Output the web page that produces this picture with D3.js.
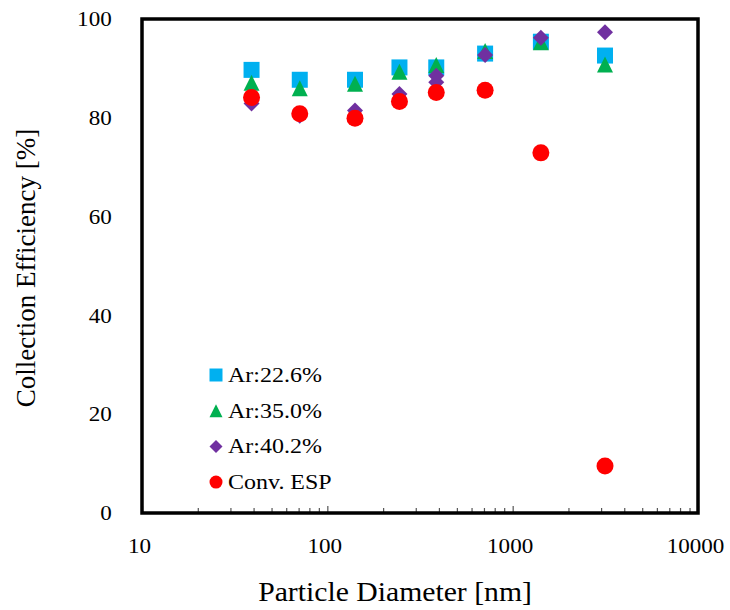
<!DOCTYPE html>
<html>
<head>
<meta charset="utf-8">
<script src="https://cdn.jsdelivr.net/npm/d3@7"></script>
<style>
	body { margin: 0; background: #fff; }
	text { font-family: "Liberation Serif", "Times New Roman", serif; fill: #000; }
</style>
</head>
<body>
<div id="chart"></div>
<script>

// particle diameters [nm]
const diam = [39, 71, 141, 245, 387, 710, 1420, 3150];
const diamAr402 = [39, 71, 141, 245, 387, 387, 710, 1420, 3150];

// collection efficiency [%]
const ar226 = [89.7, 87.7, 87.7, 90.2, 90.2, 93.0, 95.4, 92.6];
const ar350 = [87.1, 86.0, 86.9, 89.3, 90.7, 93.5, 95.3, 90.8];
const ar402 = [82.9, 80.4, 81.5, 84.8, 88.5, 87.2, 92.7, 96.2, 97.3];
const convEsp = [84.1, 80.8, 79.9, 83.3, 85.1, 85.6, 72.9, 9.5];

const seriesNames = ["Ar:22.6%", "Ar:35.0%", "Ar:40.2%", "Conv. ESP"];
const xTickLabels = [10, 100, 1000, 10000];
const yTickLabels = [0, 20, 40, 60, 80, 100];

const W = 730, H = 610;
const m = {t: 19, r: 32, b: 97, l: 142};
const FONT = '"Liberation Serif", "Times New Roman", serif';

// excel-ish marker shapes, centred on their box
const symTriangle = {
	draw(ctx, size) {
		const h = Math.sqrt(size) / 2;
		ctx.moveTo(0, -h); ctx.lineTo(h, h); ctx.lineTo(-h, h); ctx.closePath();
	}
};
const symDiamond = {
	draw(ctx, size) {
		const h = Math.sqrt(size) / 2;
		ctx.moveTo(0, -h); ctx.lineTo(h, 0); ctx.lineTo(0, h); ctx.lineTo(-h, 0); ctx.closePath();
	}
};

const series = [
	{name: seriesNames[0], xs: diam, ys: ar226, color: "#00B0F0", type: d3.symbolSquare, size: 16 * 16, lsize: 13 * 13},
	{name: seriesNames[1], xs: diam, ys: ar350, color: "#00B050", type: symTriangle, size: 16 * 16, lsize: 13 * 13},
	{name: seriesNames[2], xs: diamAr402, ys: ar402, color: "#7030A0", type: symDiamond, size: 16 * 16, lsize: 13 * 13},
	{name: seriesNames[3], xs: diam, ys: convEsp, color: "#FF0000", type: d3.symbolCircle, size: Math.PI * 8.5 * 8.5, lsize: Math.PI * 6.5 * 6.5}
];

const x = d3.scaleLog()
	.domain([10, 10000])
	.range([m.l, W - m.r]);

const y = d3.scaleLinear()
	.domain([0, 100])
	.range([H - m.b, m.t]);

const svg = d3.select("#chart").append("svg")
	.attr("width", W)
	.attr("height", H);

// minor ticks, pointing into the plot
const minorTicks = x.ticks().filter(v => xTickLabels.indexOf(v) < 0);
svg.append("g")
	.attr("transform", `translate(0,${H - m.b})`)
	.call(d3.axisBottom(x).tickValues(minorTicks).tickSize(-5).tickFormat(""))
	.call(g => g.select(".domain").remove())
	.call(g => g.selectAll("line").attr("stroke", "#555").attr("stroke-width", 1.2));

// major ticks + labels (text is a touch wider in the original, hence the scale)
svg.append("g")
	.attr("transform", `translate(0,${H - m.b})`)
	.call(d3.axisBottom(x).tickValues(xTickLabels).tickSize(-7).tickPadding(25).tickFormat(d3.format("d")))
	.call(g => g.attr("font-family", FONT))
	.call(g => g.select(".domain").remove())
	.call(g => g.selectAll("line").attr("stroke", "#555").attr("stroke-width", 1.2))
	.call(g => g.selectAll("text").attr("font-size", 21).attr("transform", "translate(-3,0) scale(1.1,1)"));

svg.append("g")
	.attr("transform", `translate(${m.l},0)`)
	.call(d3.axisLeft(y).tickValues(yTickLabels).tickSize(0).tickPadding(27.5))
	.call(g => g.attr("font-family", FONT))
	.call(g => g.select(".domain").remove())
	.call(g => g.selectAll("text").attr("font-size", 21).attr("transform", "scale(1.1,1)"));

// frame
svg.append("rect")
	.attr("x", m.l)
	.attr("y", m.t)
	.attr("width", W - m.r - m.l)
	.attr("height", H - m.b - m.t)
	.attr("fill", "none")
	.attr("stroke", "#000")
	.attr("stroke-width", 3.5);

// points, drawn in series order so the later ones sit on top
series.forEach(s => {
	svg.append("g")
		.selectAll("path")
		.data(s.ys.map((v, i) => ({d: s.xs[i], v: v})))
		.enter()
		.append("path")
		.attr("transform", p => `translate(${x(p.d)},${y(p.v)})`)
		.attr("d", d3.symbol().type(s.type).size(s.size))
		.attr("fill", s.color);
});

// legend
const legend = svg.append("g")
	.attr("transform", "translate(216,375)");

const items = legend.selectAll(".item")
	.data(series)
	.enter()
	.append("g")
	.attr("class", "item")
	.attr("transform", (d, i) => `translate(0,${i * 35.7})`);

items.append("path")
	.attr("d", d => d3.symbol().type(d.type).size(d.lsize)())
	.attr("fill", d => d.color);

items.append("text")
	.attr("transform", "translate(12,7) scale(1.09,1)")
	.attr("font-size", 22)
	.text(d => d.name);

// axis titles
svg.append("text")
	.attr("transform", "translate(395,601) scale(1.1,1)")
	.attr("text-anchor", "middle")
	.attr("font-size", 27)
	.text("Particle Diameter [nm]");

svg.append("text")
	.attr("transform", "translate(35,268) rotate(-90)")
	.attr("text-anchor", "middle")
	.attr("font-size", 27)
	.text("Collection Efficiency [%]");

</script>
</body>
</html>
